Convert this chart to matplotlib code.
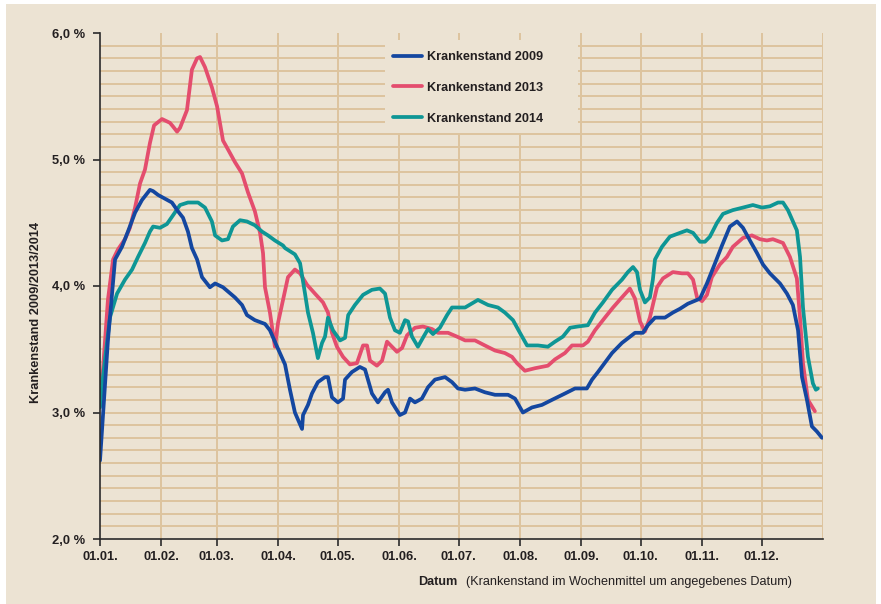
import matplotlib
matplotlib.use("Agg")
import matplotlib.pyplot as plt
from matplotlib.patches import Rectangle

# Day of year (0 = 01.01.) and sick-leave rate in percent
days_2009 = [0, 4.0, 7.6, 11.1, 14.1, 17.7, 21.2, 25.2, 26.8, 29.3, 32.8, 36.3, 39.4, 41.9, 44.4,
             46.4, 49.0, 51.5, 55.5, 58.1, 62.1, 68.1, 71.7, 74.2, 78.2, 83.3, 85.8, 89.4, 93.4,
             95.9, 98.4, 102.0, 102.5, 105.0, 107.0, 110.0, 113.6, 115.1, 117.1, 120.1, 122.7,
             123.7, 127.2, 131.2, 133.8, 137.3, 140.3, 143.9, 145.4, 147.4, 151.4, 154.0, 156.5,
             159.0, 162.5, 165.6, 169.1, 174.2, 177.7, 180.7, 184.3, 189.3, 194.3, 199.4, 206.0,
             209.5, 213.5, 218.1, 223.1, 228.2, 234.7, 239.8, 245.8, 248.4, 251.4, 258.5, 263.5,
             270.1, 274.1, 276.6, 280.2, 285.2, 289.2, 292.8, 296.8, 301.4, 302.9, 306.4, 310.5,
             314.0, 318.0, 321.6, 324.6, 328.1, 331.7, 334.7, 338.2, 343.3, 346.8, 349.8, 352.4,
             354.4, 356.9, 359.4, 361.9, 364.5]
rate_2009 = [2.62, 3.57, 4.21, 4.31, 4.43, 4.58, 4.68, 4.76, 4.75, 4.72, 4.69, 4.66, 4.59, 4.54, 4.43,
             4.30, 4.21, 4.07, 3.99, 4.02, 3.99, 3.91, 3.85, 3.77, 3.73, 3.70, 3.65, 3.52, 3.38,
             3.18, 3.00, 2.87, 2.98, 3.06, 3.15, 3.24, 3.28, 3.28, 3.12, 3.08, 3.11,
             3.26, 3.32, 3.36, 3.34, 3.15, 3.08, 3.16, 3.18, 3.08, 2.98, 3.00, 3.11,
             3.08, 3.11, 3.20, 3.26, 3.28, 3.24, 3.19, 3.18, 3.19, 3.16, 3.14, 3.14,
             3.11, 3.00, 3.04, 3.06, 3.10, 3.15, 3.19, 3.19, 3.26, 3.32, 3.47, 3.55,
             3.63, 3.63, 3.69, 3.75, 3.75, 3.79, 3.82, 3.86, 3.89, 3.90, 4.02, 4.18,
             4.32, 4.47, 4.51, 4.46, 4.36, 4.26, 4.17, 4.10, 4.02, 3.94, 3.85, 3.65,
             3.28, 3.10, 2.89, 2.85, 2.80]

days_2013 = [0, 1.5, 4.0, 6.6, 9.1, 12.6, 15.1, 17.7, 20.2, 22.7, 25.2, 27.3, 31.3, 35.3, 36.9,
             38.9, 40.4, 43.9, 46.4, 49.0, 50.5, 53.0, 56.5, 59.1, 62.1, 64.6, 68.1, 71.7, 74.7,
             78.2, 80.8, 82.3, 83.3, 85.8, 88.3, 89.9, 92.4, 94.9, 98.4, 101.0, 104.5, 108.5,
             112.6, 115.1, 117.1, 119.6, 122.7, 126.2, 129.7, 132.8, 134.8, 136.3, 139.8, 142.4,
             144.9, 147.4, 149.9, 152.5, 155.0, 159.0, 163.0, 167.6, 170.6, 175.7, 180.2, 184.3,
             189.3, 194.3, 199.4, 204.4, 208.0, 210.5, 214.5, 219.6, 226.1, 229.7, 234.7, 238.3,
             243.8, 246.3, 249.9, 254.9, 259.0, 263.5, 267.5, 270.1, 272.6, 275.1, 277.6, 281.2,
             284.2, 289.2, 293.8, 296.8, 299.4, 301.4, 303.9, 306.4, 308.9, 312.9, 316.5, 319.5,
             324.6, 329.1, 333.2, 336.7, 339.7, 344.8, 348.3, 351.8, 353.4, 354.9, 357.4, 360.9]
rate_2013 = [3.23, 3.34, 3.89, 4.21, 4.29, 4.37, 4.46, 4.62, 4.81, 4.92, 5.13, 5.27, 5.32, 5.29, 5.26,
             5.22, 5.25, 5.39, 5.71, 5.80, 5.81, 5.73, 5.57, 5.42, 5.15, 5.08, 4.98, 4.89, 4.74,
             4.59, 4.42, 4.26, 3.99, 3.79, 3.52, 3.71, 3.89, 4.07, 4.13, 4.10, 4.01, 3.94,
             3.87, 3.79, 3.63, 3.52, 3.44, 3.38, 3.39, 3.53, 3.53, 3.41, 3.37, 3.41,
             3.56, 3.52, 3.48, 3.51, 3.61, 3.67, 3.68, 3.66, 3.63, 3.63, 3.60, 3.57,
             3.57, 3.53, 3.49, 3.47, 3.44, 3.39, 3.33, 3.35, 3.37, 3.42, 3.47, 3.53,
             3.53, 3.56, 3.65, 3.75, 3.83, 3.91, 3.98, 3.90, 3.72, 3.64, 3.75, 3.99,
             4.06, 4.11, 4.10, 4.10, 4.05, 3.91, 3.88, 3.93, 4.07, 4.17, 4.23, 4.31,
             4.38, 4.40, 4.37, 4.36, 4.37, 4.34, 4.23, 4.06, 3.75, 3.39, 3.10, 3.01]

days_2014 = [0, 1.5, 5.0, 8.6, 12.6, 16.2, 19.2, 22.7, 25.2, 26.8, 30.3, 33.8, 36.9, 40.4, 44.4,
             49.5, 53.0, 56.5, 58.1, 61.6, 64.6, 67.1, 70.7, 74.2, 78.2, 81.8, 84.8, 88.3, 92.4,
             93.4, 98.4, 101.0, 103.5, 105.0, 107.5, 110.0, 112.1, 113.6, 115.1, 117.6, 121.2,
             123.7, 125.3, 128.7, 132.8, 137.3, 141.3, 143.9, 146.4, 148.9, 151.4, 154.0, 155.5,
             157.5, 160.5, 163.0, 165.6, 168.1, 171.6, 175.2, 177.7, 184.3, 190.8, 195.9, 200.9,
             204.4, 208.5, 212.0, 215.6, 221.1, 226.1, 229.7, 233.7, 237.3, 241.3, 246.3, 249.9,
             253.9, 258.5, 263.5, 266.5, 269.1, 271.1, 272.6, 275.1, 277.6, 279.1, 280.2, 283.7,
             287.7, 292.8, 296.3, 299.4, 302.9, 305.4, 307.9, 311.5, 314.5, 319.5, 324.6, 329.6,
             334.2, 338.2, 342.3, 344.8, 347.3, 351.8, 353.4, 354.9, 357.4, 359.9, 361.4, 362.4]
rate_2014 = [3.04, 3.28, 3.75, 3.94, 4.05, 4.13, 4.23, 4.34, 4.43, 4.47, 4.46, 4.49, 4.56, 4.64, 4.66,
             4.66, 4.62, 4.51, 4.40, 4.36, 4.37, 4.47, 4.52, 4.51, 4.48, 4.43, 4.40, 4.36, 4.32,
             4.30, 4.25, 4.18, 3.94, 3.79, 3.63, 3.43, 3.55, 3.60, 3.75, 3.65, 3.57,
             3.59, 3.77, 3.85, 3.93, 3.97, 3.98, 3.94, 3.75, 3.65, 3.63, 3.73, 3.72,
             3.60, 3.52, 3.59, 3.66, 3.62, 3.67, 3.77, 3.83, 3.83, 3.89, 3.85, 3.83,
             3.79, 3.73, 3.63, 3.53, 3.53, 3.52, 3.56, 3.60, 3.67, 3.68, 3.69, 3.79,
             3.87, 3.97, 4.05, 4.11, 4.15, 4.11, 3.97, 3.87, 3.91, 4.05, 4.21, 4.31,
             4.39, 4.42, 4.44, 4.42, 4.35, 4.35, 4.39, 4.50, 4.57, 4.60, 4.62, 4.64,
             4.62, 4.63, 4.66, 4.66, 4.60, 4.44, 4.23, 3.83, 3.44, 3.23, 3.18, 3.19]

month_starts = [0, 31, 59, 90, 120, 151, 181, 212, 243, 273, 304, 334]
month_labels = ["01.01.", "01.02.", "01.03.", "01.04.", "01.05.", "01.06.",
                "01.07.", "01.08.", "01.09.", "01.10.", "01.11.", "01.12."]
y_ticks = [2.0, 3.0, 4.0, 5.0, 6.0]
y_labels = ["2,0 %", "3,0 %", "4,0 %", "5,0 %", "6,0 %"]

BG = "#ECE3D3"
GRID = "#DDC49E"
FONT = "Liberation Sans"
TXT = "#231F20"
W, H = 881, 604

fig = plt.figure(figsize=(W / 100, H / 100), dpi=100)
fig.patch.set_facecolor("white")
fig.add_artist(Rectangle((6 / W, 0), 1 - 11 / W, 1 - 4 / H,
                         transform=fig.transFigure, facecolor=BG, edgecolor="none", zorder=0))

ax = fig.add_axes([100 / W, 1 - 539 / H, 723 / W, 506 / H])
ax.set_facecolor(BG)
ax.set_xlim(0, 365)
ax.set_ylim(2.0, 6.0)

# fine horizontal grid every 0.1 %, month gridlines
for k in range(1, 40):
    ax.axhline(2.0 + k * 0.1, color=GRID, lw=1.4, zorder=1)
for d in month_starts[1:] + [365]:
    ax.axvline(d, color=GRID, lw=1.4, zorder=1)

# plain panel behind the legend
ax.add_patch(Rectangle((385 / W, 1 - 133 / H), 193 / W, 93 / H, transform=fig.transFigure,
                       facecolor=BG, edgecolor="none", zorder=2))

l1, = ax.plot(days_2009, rate_2009, color="#1447A0", lw=2.7, zorder=4,
              solid_joinstyle="round", solid_capstyle="round")
l2, = ax.plot(days_2013, rate_2013, color="#E44D6E", lw=2.7, zorder=3,
              solid_joinstyle="round", solid_capstyle="round")
l3, = ax.plot(days_2014, rate_2014, color="#0E9695", lw=2.7, zorder=3,
              solid_joinstyle="round", solid_capstyle="round")

for s in ["top", "right"]:
    ax.spines[s].set_visible(False)
for s in ["left", "bottom"]:
    ax.spines[s].set_color("#2b2b2b")
    ax.spines[s].set_linewidth(1.2)
    ax.spines[s].set_zorder(5)

ax.set_xticks(month_starts)
ax.set_xticklabels(month_labels, fontfamily=FONT, fontweight="bold", fontsize=9.3, color=TXT)
ax.set_yticks(y_ticks)
ax.set_yticklabels(y_labels, fontfamily=FONT, fontweight="bold", fontsize=9.3, color=TXT)
ax.tick_params(axis="both", direction="out", length=5, width=1.2, color="#2b2b2b")
ax.tick_params(axis="x", pad=4)
ax.tick_params(axis="y", pad=6)

leg = ax.legend([l1, l2, l3], ["Krankenstand 2009", "Krankenstand 2013", "Krankenstand 2014"],
                loc="upper left", bbox_to_anchor=(385 / W, 1 - 43 / H),
                bbox_transform=fig.transFigure, frameon=False, handlelength=2.3,
                handletextpad=0.4, labelspacing=1.5, borderpad=0.63, borderaxespad=0,
                prop={"family": FONT, "weight": "bold", "size": 9.1})
for t in leg.get_texts():
    t.set_color(TXT)
leg.set_zorder(6)

fig.text(36 / W, 1 - 312 / H, "Krankenstand 2009/2013/2014", rotation=90,
         ha="center", va="center", fontfamily=FONT, fontweight="bold", fontsize=9.2, color=TXT)
fig.text(418 / W, 1 - 582 / H, "Datum", ha="left", va="center",
         fontfamily=FONT, fontweight="bold", fontsize=9.1, color=TXT)
fig.text(466 / W, 1 - 582 / H, "(Krankenstand im Wochenmittel um angegebenes Datum)",
         ha="left", va="center", fontfamily=FONT, fontsize=9.1, color=TXT)

fig.savefig("out.png", dpi=100, facecolor=fig.get_facecolor())
